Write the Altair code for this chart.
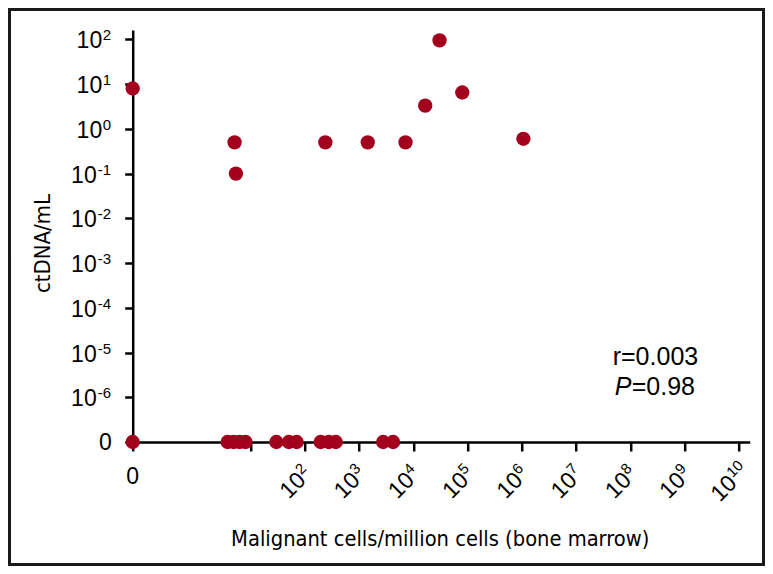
import altair as alt
import pandas as pd

# ---- data ----
# points with detectable ctDNA
pos_cells = [0, 5.1, 5.4, 240, 1450, 7200, 16600, 30500, 80000, 1.07e6]
pos_ctdna = [8.0, 0.5, 0.1, 0.5, 0.5, 0.5, 3.3, 95, 6.5, 0.6]
# points with ctDNA = 0
zero_cells = [0, 3.8, 4.9, 6.3, 8.1, 30, 51, 71, 197, 277, 373, 2790, 4250]
zero_ctdna = [0, 0, 0, 0, 0, 0, 0, 0, 0, 0, 0, 0, 0]

y_exponents = [2, 1, 0, -1, -2, -3, -4, -5, -6]
x_exponents = [2, 3, 4, 5, 6, 7, 8, 9, 10]
x_tick_values = [-1.17, 1, 2, 3, 4, 5, 6, 7, 8, 9, 10]
y_tick_values = [-7, -6, -5, -4, -3, -2, -1, 0, 1, 2]
zero_label = ["0"]
r_text = "r=0.003"
p_value = "=0.98"

X_ZERO = -1.17   # axis position used for 0 cells
Y_ZERO = -7      # axis position used for 0 ctDNA

W, H = 617, 412
RED = "#a3001e"
TICKFONT = "Liberation Sans, Arial, sans-serif"
TITLEFONT = "Liberation Sans Narrow, DejaVu Sans Condensed, sans-serif"

df = pd.DataFrame({
    "cells": pos_cells + zero_cells,
    "ctdna": pos_ctdna + zero_ctdna,
})

xs = alt.Scale(domain=[X_ZERO, 10.2], nice=False, zero=False)
ys = alt.Scale(domain=[Y_ZERO, 2.21], nice=False, zero=False)

XAX = alt.Axis(
    values=x_tick_values, labels=False, grid=False,
    domainColor="black", domainWidth=2.5, tickColor="black",
    tickWidth=2.5, tickSize=9,
    title="Malignant cells/million cells (bone marrow)",
    titleFont=TITLEFONT, titleFontSize=21.7, titleFontWeight="normal",
    titleColor="black", titleX=307, titleY=103.5,
    titleBaseline="alphabetic", titleAlign="center")
YAX = alt.Axis(
    values=y_tick_values, labels=False, grid=False,
    domainColor="black", domainWidth=2.5, tickColor="black",
    tickWidth=2.5, tickSize=8,
    title="ctDNA/mL",
    titleFont=TITLEFONT, titleFontSize=22, titleFontWeight="normal",
    titleColor="black", titleX=-83, titleY=213, titleAngle=270,
    titleBaseline="alphabetic", titleAlign="center")

points = alt.Chart(df).transform_calculate(
    xp=f"datum.cells > 0 ? log(datum.cells)/LN10 : {X_ZERO}",
    yp=f"datum.ctdna > 0 ? log(datum.ctdna)/LN10 : {Y_ZERO}",
).mark_circle(size=205, color=RED, opacity=1).encode(
    x=alt.X("xp:Q", scale=xs, axis=XAX),
    y=alt.Y("yp:Q", scale=ys, axis=YAX),
)

ydf = pd.DataFrame({"e": y_exponents})
xdf = pd.DataFrame({"e": x_exponents})

def ytext(filt, xpix, txt, size, dy):
    return alt.Chart(ydf).transform_filter(filt).transform_calculate(
        t=txt).mark_text(align="right", baseline="middle", font=TICKFONT,
                         fontSize=size, dy=dy, color="black").encode(
        x=alt.value(xpix), y=alt.Y("e:Q", scale=ys, axis=YAX), text="t:N")

ylab = [
    ytext("datum.e >= 0", -30.5, "'10'", 23, 2),
    ytext("datum.e >= 0", -21.5, "toString(datum.e)", 15, -4),
    ytext("datum.e < 0", -36, "'10'", 23, 2),
    ytext("datum.e < 0", -21.5, "toString(datum.e)", 15, -4),
]

def xtext(filt, txt, size, dx, dy):
    return alt.Chart(xdf).transform_filter(filt).transform_calculate(
        t=txt).mark_text(align="left", baseline="middle", font=TICKFONT,
                         fontSize=size, angle=315, dx=dx, dy=dy,
                         color="black").encode(
        x=alt.X("e:Q", scale=xs, axis=XAX), y=alt.value(441.8), text="t:N")

xlab = [
    xtext("datum.e < 10", "'10'", 23, -30.9, 1.5),
    xtext("datum.e < 10", "toString(datum.e)", 15, -4.9, -5),
    xtext("datum.e >= 10", "'10'", 23, -35.1, 1.5),
    xtext("datum.e >= 10", "toString(datum.e)", 15, -9.1, -5),
]

zdf = pd.DataFrame({"lab": zero_label, "xz": [X_ZERO], "yz": [Y_ZERO]})
x0 = alt.Chart(zdf).mark_text(align="center", baseline="middle", font=TICKFONT,
                              fontSize=23, color="black").encode(
    x=alt.X("xz:Q", scale=xs, axis=XAX), y=alt.value(447), text="lab:N")
y0 = alt.Chart(zdf).mark_text(align="right", baseline="middle", font=TICKFONT,
                              fontSize=23, dy=1, color="black").encode(
    x=alt.value(-21), y=alt.Y("yz:Q", scale=ys, axis=YAX), text="lab:N")

sdf = pd.DataFrame({"r": [r_text], "p": ["P"], "v": [p_value]})
stat_r = alt.Chart(sdf).mark_text(align="left", baseline="alphabetic", font=TICKFONT,
                                  fontSize=25, color="black").encode(
    x=alt.value(480), y=alt.value(335), text="r:N")
stat_p = alt.Chart(sdf).mark_text(align="left", baseline="alphabetic", font=TICKFONT,
                                  fontSize=25, fontStyle="italic", color="black").encode(
    x=alt.value(482), y=alt.value(365), text="p:N")
stat_v = alt.Chart(sdf).mark_text(align="left", baseline="alphabetic", font=TICKFONT,
                                  fontSize=25, color="black").encode(
    x=alt.value(499), y=alt.value(365), text="v:N")

frame = alt.Chart(sdf).mark_rect(fillOpacity=0, stroke="#1a1a1a", strokeWidth=3).encode(
    x=alt.value(-123.2), x2=alt.value(W + 13.8),
    y=alt.value(-20.5), y2=alt.value(H + 122.5))

chart = alt.layer(points, *ylab, *xlab, x0, y0, stat_r, stat_p, stat_v, frame).properties(
    width=W, height=H,
    padding={"left": 124.7, "top": 22, "right": 15.3, "bottom": 124},
    autosize=alt.AutoSizeParams(type="none"),
    background="white",
).configure_view(stroke=None)

chart.save("out.html", embed_options={"renderer": "svg", "actions": False})
